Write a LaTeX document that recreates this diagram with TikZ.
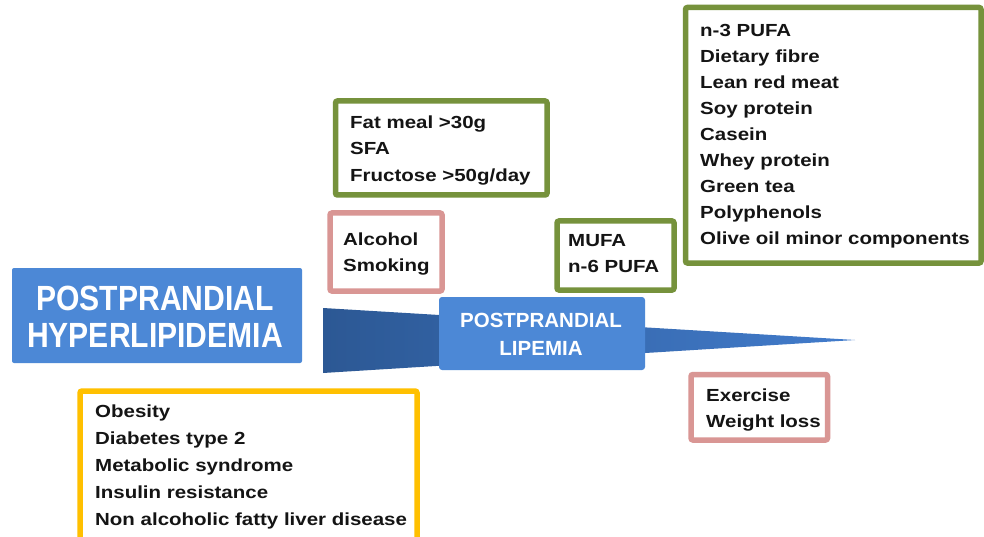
\documentclass[tikz,border=0pt]{standalone}
\usepackage{fontspec}
\setmainfont{Liberation Sans}
\newfontfamily\bodyf{Liberation Sans}[FakeStretch=1.17]
\newfontfamily\titlef{Liberation Sans}[FakeStretch=0.86]
\definecolor{gborder}{RGB}{118,146,60}
\definecolor{pborder}{RGB}{217,150,148}
\definecolor{yborder}{RGB}{255,192,0}
\definecolor{bluebox}{RGB}{76,136,214}
\definecolor{wdark}{RGB}{44,88,148}
\definecolor{wlight}{RGB}{66,124,204}
\definecolor{ink}{RGB}{20,20,20}
\newcommand\lst[2]{{\fontsize{17.5}{#1}\selectfont\begin{tabular}[t]{@{}l@{}}#2\end{tabular}}}
\begin{document}
\begin{tikzpicture}[x=1pt,y=-1pt,
  frame/.style={draw, line width=5.5pt, fill=white, rounded corners=2pt, inner sep=0pt},
  gbox/.style={frame, draw=gborder},
  pbox/.style={frame, draw=pborder},
  ybox/.style={frame, draw=yborder},
  bbox/.style={fill=bluebox, rounded corners=2pt, inner sep=0pt},
  txt/.style={anchor=base west, inner sep=0pt, text=ink, font=\bodyf\bfseries},
  wtxt/.style={inner sep=0pt, text=white, align=center}
]
\useasboundingbox (0,0) rectangle (984,537);
\clip (0,0) rectangle (984,537);
\fill[white] (0,0) rectangle (984,537);

% wedge
\shade[left color=wdark, right color=wlight] (323,308) -- (855,340) -- (323,373) -- cycle;

% blue boxes
\node[bbox, minimum width=290pt, minimum height=95pt] (main) at (157,315.5) {};
\node[wtxt, anchor=base, font=\titlef\bfseries\fontsize{35}{37}\selectfont] (maint) at (155,310) {POSTPRANDIAL};
\node[wtxt, anchor=base, font=\titlef\bfseries\fontsize{35}{37}\selectfont] (maint2) at (155,347) {HYPERLIPIDEMIA};

\node[bbox, rounded corners=3pt, minimum width=206pt, minimum height=73pt] (lip) at (542,333.5) {};
\node[wtxt, anchor=base, font=\bfseries\fontsize{20.5}{28}\selectfont] (lipt) at (541,327) {POSTPRANDIAL};
\node[wtxt, anchor=base, font=\bfseries\fontsize{20.5}{28}\selectfont] (lipt2) at (541,355) {LIPEMIA};

% framed boxes
\node[gbox, minimum width=295.5pt, minimum height=255.5pt] (pos) at (833.25,135.25) {};
\node[txt] (post) at (700,37) {\lst{25.9}{n-3 PUFA\\Dietary fibre\\Lean red meat\\Soy protein\\Casein\\Whey protein\\Green tea\\Polyphenols\\Olive oil minor components}};

\node[gbox, minimum width=211.5pt, minimum height=94pt] (fat) at (441.25,148) {};
\node[txt] (fatt) at (350,128.5) {\lst{26.4}{Fat meal >30g\\SFA\\Fructose >50g/day}};

\node[pbox, minimum width=112pt, minimum height=78pt] (alc) at (386,252) {};
\node[txt] (alct) at (343,245) {\lst{26}{Alcohol\\Smoking}};

\node[gbox, minimum width=117pt, minimum height=69pt] (mufa) at (615.5,255.5) {};
\node[txt] (mufat) at (568,246) {\lst{27}{MUFA\\n-6 PUFA}};

\node[pbox, minimum width=136.5pt, minimum height=65.5pt] (ex) at (759.25,407.25) {};
\node[txt] (ext) at (706,401.5) {\lst{25.5}{Exercise\\Weight loss}};

\node[ybox, minimum width=337pt, minimum height=154pt] (risk) at (248.5,468) {};
\node[txt] (riskt) at (95,417) {\lst{27}{Obesity\\Diabetes type 2\\Metabolic syndrome\\Insulin resistance\\Non alcoholic fatty liver disease}};
\end{tikzpicture}
\end{document}
